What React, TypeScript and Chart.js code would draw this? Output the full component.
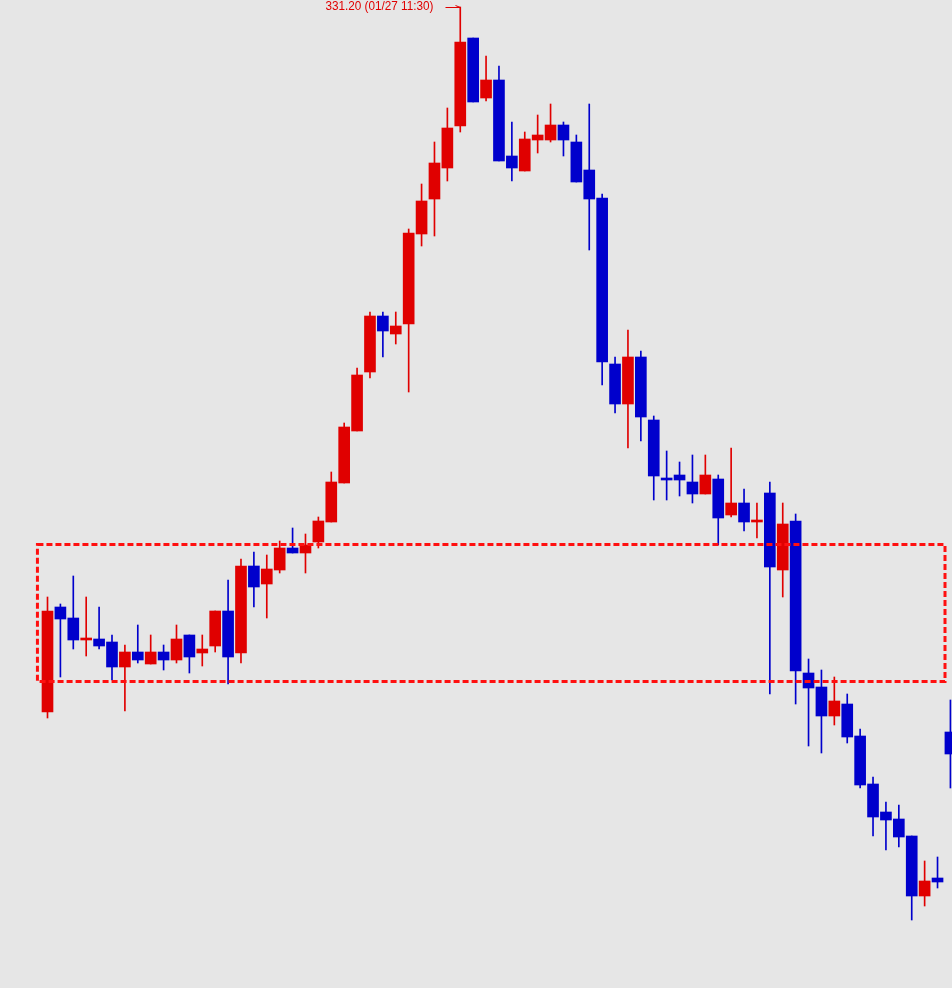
import React, { useEffect, useRef } from 'react';
import { Chart, registerables } from 'chart.js';

Chart.register(...registerables);

// OHLC data (one candle per bar)
const opens = [
  324.15, 325.20, 325.09, 324.87, 324.88, 324.85, 324.60, 324.75, 324.63, 324.75,
  324.67, 324.92, 324.74, 324.81, 325.16, 324.74, 325.61, 325.43, 325.57, 325.79,
  325.74, 325.85, 326.05, 326.44, 326.96, 327.55, 328.11, 327.93, 328.03, 328.93,
  329.28, 329.59, 330.01, 330.89, 330.29, 330.47, 329.71, 329.56, 329.87, 329.87,
  330.02, 329.85, 329.57, 329.29, 327.63, 327.23, 327.70, 327.07, 326.49, 326.52,
  326.45, 326.33, 326.48, 326.12, 326.24, 326.05, 326.34, 325.57, 326.06, 324.54,
  324.40, 324.11, 324.23, 323.91, 323.43, 323.15, 323.08, 322.91, 322.31, 322.49,
  323.95,
];
const highs = [
  325.30, 325.23, 325.51, 325.30, 325.20, 324.92, 324.82, 325.02, 324.92, 324.82,
  325.02, 324.92, 324.92, 325.16, 325.47, 325.68, 325.75, 325.72, 325.86, 325.99,
  325.93, 326.10, 326.55, 327.04, 327.59, 328.15, 328.15, 328.15, 328.98, 329.43,
  329.85, 330.19, 331.20, 330.89, 330.71, 330.61, 330.05, 329.95, 330.12, 330.23,
  330.05, 329.92, 330.23, 329.33, 327.70, 327.97, 327.76, 327.11, 326.76, 326.65,
  326.72, 326.72, 326.52, 326.79, 326.38, 326.24, 326.45, 326.24, 326.13, 324.68,
  324.57, 324.50, 324.33, 323.98, 323.50, 323.25, 323.22, 322.91, 322.66, 322.70,
  324.27,
];
const lows = [
  324.09, 324.50, 324.78, 324.71, 324.78, 324.47, 324.16, 324.64, 324.63, 324.57,
  324.64, 324.54, 324.61, 324.75, 324.43, 324.64, 325.20, 325.09, 325.54, 325.74,
  325.54, 325.79, 326.05, 326.44, 326.96, 327.49, 327.70, 327.83, 327.35, 328.81,
  328.91, 329.46, 329.95, 330.25, 330.26, 329.66, 329.46, 329.56, 329.74, 329.85,
  329.71, 329.45, 328.77, 327.42, 327.14, 326.79, 326.86, 326.27, 326.27, 326.31,
  326.24, 326.33, 325.82, 326.10, 325.96, 325.89, 324.33, 325.30, 324.23, 323.81,
  323.74, 324.02, 323.84, 323.39, 322.91, 322.77, 322.80, 322.07, 322.21, 322.39,
  323.39,
];
const closes = [
  325.16, 325.08, 324.87, 324.89, 324.81, 324.60, 324.75, 324.67, 324.75, 324.67,
  324.88, 324.70, 324.78, 325.16, 324.70, 325.61, 325.40, 325.58, 325.79, 325.74,
  325.82, 326.06, 326.45, 327.00, 327.52, 328.11, 327.96, 328.01, 328.94, 329.26,
  329.64, 329.99, 330.85, 330.25, 330.47, 329.66, 329.59, 329.88, 329.92, 330.02,
  329.87, 329.45, 329.28, 327.65, 327.23, 327.70, 327.10, 326.51, 326.47, 326.47,
  326.33, 326.52, 326.09, 326.24, 326.05, 326.07, 325.60, 326.03, 324.56, 324.39,
  324.11, 324.26, 323.90, 323.42, 323.10, 323.07, 322.90, 322.31, 322.46, 322.45,
  323.73,
];

// Highlighted zone (dashed box): index range and price range
const boxIndexRange = [-0.78, 69.58];
const boxPriceRange = [324.455, 325.825];

// Peak annotation
const peakIndex = 32;
const peakLabel = '331.20 (01/27 11:30)';

// Visible window
const xRange = [-3.6825, 70.122];
const yRange = [321.39, 331.27];

const RED = '#e00000';
const BLUE = '#0000cc';
const BG = '#e6e6e6';

export default function App() {
  const ref = useRef<HTMLCanvasElement>(null);

  useEffect(() => {
    document.body.style.margin = '0';
    const canvas = ref.current;
    if (!canvas) return;
    const idx = opens.map((_, i) => i);
    const colors = idx.map((i) => (closes[i] >= opens[i] ? RED : BLUE));

    const bgPlugin = {
      id: 'bg',
      beforeDraw(chart: any) {
        const ctx = chart.ctx;
        ctx.save();
        ctx.fillStyle = BG;
        ctx.fillRect(0, 0, chart.width, chart.height);
        ctx.restore();
      },
    };

    const overlayPlugin = {
      id: 'overlay',
      afterDatasetsDraw(chart: any) {
        const ctx = chart.ctx;
        const xs = chart.scales.x;
        const ys = chart.scales.y;
        // dashed box
        const x0 = xs.getPixelForValue(boxIndexRange[0]);
        const x1 = xs.getPixelForValue(boxIndexRange[1]);
        const y0 = ys.getPixelForValue(boxPriceRange[1]);
        const y1 = ys.getPixelForValue(boxPriceRange[0]);
        ctx.save();
        ctx.strokeStyle = '#ff1010';
        ctx.lineWidth = 3;
        ctx.setLineDash([6, 3]);
        ctx.strokeRect(x0, y0, x1 - x0, y1 - y0);
        ctx.restore();

        // peak annotation
        const px = Math.round(xs.getPixelForValue(peakIndex)) + 0.5;
        const py = Math.round(ys.getPixelForValue(highs[peakIndex])) + 0.5;
        ctx.save();
        ctx.strokeStyle = RED;
        ctx.lineWidth = 1;
        ctx.beginPath();
        ctx.moveTo(px - 15, py);
        ctx.lineTo(px, py);
        ctx.moveTo(px - 5, py - 2);
        ctx.lineTo(px, py);
        ctx.stroke();
        ctx.fillStyle = RED;
        ctx.font = '12px "Liberation Sans", Arial, sans-serif';
        ctx.textAlign = 'right';
        ctx.textBaseline = 'middle';
        ctx.fillText(peakLabel, px - 27, py - 0.5, 108);
        ctx.restore();
      },
    };

    const chart = new Chart(canvas, {
      type: 'bar',
      data: {
        datasets: [
          {
            label: 'wick',
            data: idx.map((i) => ({ x: i, y: [lows[i], highs[i]] })) as any,
            backgroundColor: colors,
            barThickness: 1,
            maxBarThickness: 1,
            grouped: false,
            borderWidth: 0,
            order: 2,
          } as any,
          {
            label: 'body',
            data: idx.map((i) => ({ x: i, y: [opens[i], closes[i]] })) as any,
            backgroundColor: colors,
            barThickness: 11,
            maxBarThickness: 11,
            grouped: false,
            borderWidth: 0,
            minBarLength: 1,
            order: 1,
          } as any,
        ],
      },
      options: {
        animation: false,
        responsive: false,
        maintainAspectRatio: false,
        devicePixelRatio: 1,
        layout: { padding: 0 },
        plugins: {
          legend: { display: false },
          tooltip: { enabled: false },
        },
        scales: {
          x: { type: 'linear', min: xRange[0], max: xRange[1], display: false, offset: false },
          y: { type: 'linear', min: yRange[0], max: yRange[1], display: false },
        },
      },
      plugins: [bgPlugin, overlayPlugin],
    } as any);

    return () => chart.destroy();
  }, []);

  return (
    <canvas
      ref={ref}
      width={952}
      height={988}
      style={{ display: 'block', width: 952, height: 988, background: BG }}
    />
  );
}
